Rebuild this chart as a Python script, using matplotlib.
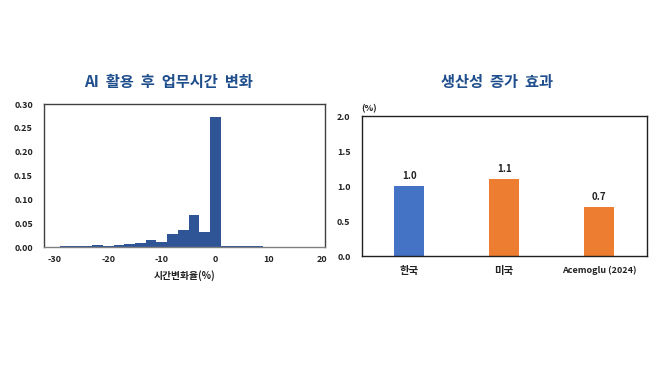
import matplotlib
matplotlib.use("Agg")
import matplotlib.pyplot as plt

plt.rcParams['font.family'] = ['Noto Sans CJK KR', 'DejaVu Sans']

# Left: histogram of change in working hours (bin centers, %)
hist_centers = [-28, -26, -24, -22, -20, -18, -16, -14, -12, -10, -8, -6, -4, -2, 0, 2, 4, 6, 8]
hist_values = [0.002, 0.002, 0.003, 0.004, 0.002, 0.005, 0.006, 0.008, 0.014, 0.011,
               0.027, 0.035, 0.067, 0.031, 0.272, 0.003, 0.002, 0.002, 0.002]
hist_xticks = [-30, -20, -10, 0, 10, 20]
hist_yticks = [0.00, 0.05, 0.10, 0.15, 0.20, 0.25, 0.30]

# Right: productivity effect
categories = ['한국', '미국', 'Acemoglu (2024)']
prod_values = [1.0, 1.1, 0.7]
prod_labels = ['1.0', '1.1', '0.7']
prod_yticks = [0.0, 0.5, 1.0, 1.5, 2.0]

title_color = '#1F4E8C'
hist_color = '#2F5597'
bar_colors = ['#4472C4', '#ED7D31', '#ED7D31']
frame_color = '#404040'

fig = plt.figure(figsize=(6.58, 3.69), dpi=100)
fig.patch.set_facecolor('white')

# Left axes
ax1 = fig.add_axes([0.0669, 0.3306, 0.427, 0.3875])
ax1.bar(hist_centers, hist_values, width=2.0, color=hist_color, linewidth=0, align='center')
ax1.set_xlim(-32, 20.5)
ax1.set_ylim(0, 0.30)
ax1.set_xticks(hist_xticks)
ax1.set_xticklabels([str(v) for v in hist_xticks])
ax1.set_yticks(hist_yticks)
ax1.set_yticklabels([f'{v:.2f}' for v in hist_yticks])
ax1.tick_params(length=0, labelsize=6.5, pad=6)
ax1.tick_params(axis='y', pad=8)
for lbl in ax1.get_xticklabels() + ax1.get_yticklabels():
    lbl.set_fontweight('bold')
    lbl.set_color('#222222')
for s in ax1.spines.values():
    s.set_color(frame_color)
    s.set_linewidth(1.0)
ax1.spines['bottom'].set_color('#808080')
ax1.set_xlabel('시간변화율(%)', fontsize=7, fontweight='bold', color='#222222', labelpad=4)
fig.text(0.256, 0.778, 'AI  활용  후  업무시간  변화', ha='center', va='center',
         fontsize=11, fontweight='bold', color=title_color)

# Right axes
ax2 = fig.add_axes([0.5497, 0.306, 0.4331, 0.3794])
xpos = list(range(len(categories)))
ax2.bar(xpos, prod_values, width=0.31, color=bar_colors, linewidth=0)
ax2.set_xlim(-0.5, 2.5)
ax2.set_ylim(0, 2.0)
ax2.set_xticks(xpos)
ax2.set_xticklabels(categories)
ax2.set_yticks(prod_yticks)
ax2.set_yticklabels([f'{v:.1f}' for v in prod_yticks])
ax2.tick_params(length=0, labelsize=6.5)
ax2.tick_params(axis='x', pad=7)
ax2.tick_params(axis='y', pad=8)
for lbl in ax2.get_xticklabels() + ax2.get_yticklabels():
    lbl.set_fontweight('bold')
    lbl.set_color('#222222')
for i, lbl in enumerate(ax2.get_xticklabels()):
    if i < 2:
        lbl.set_fontsize(7.5)
for s in ax2.spines.values():
    s.set_color('#202020')
    s.set_linewidth(1.0)
for x, v, t in zip(xpos, prod_values, prod_labels):
    ax2.annotate(t, (x, v), xytext=(0, 4), textcoords='offset points',
                 ha='center', va='bottom', fontsize=7, fontweight='bold', color='#222222')
ax2.text(0.0, 1.02, '(%)', transform=ax2.transAxes, ha='left', va='bottom',
         fontsize=6.5, fontweight='bold', color='#222222')
fig.text(0.755, 0.778, '생산성  증가  효과', ha='center', va='center',
         fontsize=11, fontweight='bold', color=title_color)

fig.savefig('out.png', dpi=100, facecolor='white')
